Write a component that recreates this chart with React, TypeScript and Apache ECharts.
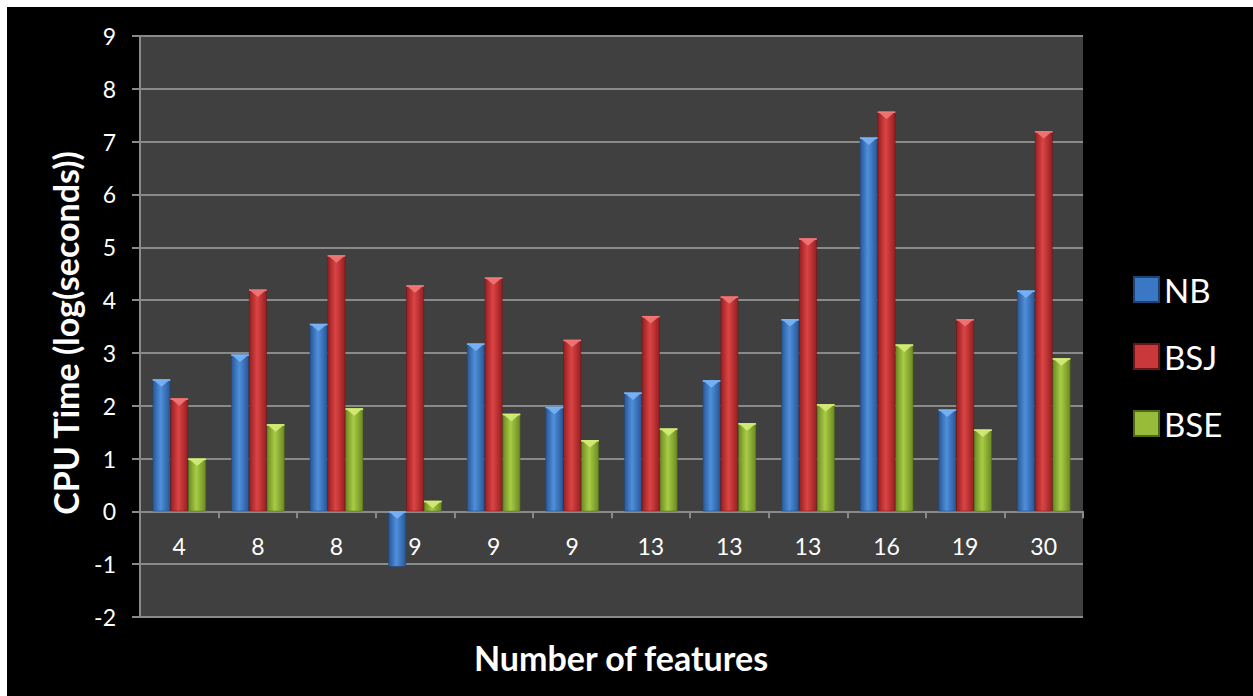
import React, { useEffect, useRef } from "react";
import * as echarts from "echarts";

const categories = ["4", "8", "8", "9", "9", "9", "13", "13", "13", "16", "19", "30"];
const seriesNames = ["NB", "BSJ", "BSE"];
const nbValues = [2.5, 2.97, 3.55, -1.05, 3.18, 1.98, 2.25, 2.48, 3.64, 7.08, 1.93, 4.18];
const bsjValues = [2.14, 4.2, 4.85, 4.28, 4.43, 3.25, 3.7, 4.07, 5.17, 7.57, 3.64, 7.2];
const bseValues = [1.0, 1.65, 1.95, 0.2, 1.85, 1.35, 1.57, 1.67, 2.03, 3.16, 1.55, 2.9];
const yTicks = { min: -2, max: 9, interval: 1 };

const palettes = [
  { dark: "#275796", mid: "#4f8fdb", light: "#7ab4f5", border: "#1d4275", legend: "#3b78c4" },
  { dark: "#951f21", mid: "#dc4444", light: "#f07878", border: "#6e1416", legend: "#c9393b" },
  { dark: "#6b8a22", mid: "#a9cc45", light: "#d4ec7a", border: "#4d6617", legend: "#99bb3a" },
];

const CAT_GAP = 0.32;

export default function App() {
  const ref = useRef<HTMLDivElement>(null);
  useEffect(() => {
    if (!ref.current) return;
    const chart = echarts.init(ref.current, undefined, { renderer: "svg" });
    const all = [nbValues, bsjValues, bseValues];
    const grad = (p: any) =>
      new echarts.graphic.LinearGradient(0, 0, 1, 0, [
        { offset: 0, color: p.dark },
        { offset: 0.45, color: p.mid },
        { offset: 1, color: p.dark },
      ]);
    const barSeries = all.map((vals, k) => ({
      type: "bar",
      name: seriesNames[k],
      data: vals,
      barGap: "0%",
      barCategoryGap: CAT_GAP * 100 + "%",
      itemStyle: { color: grad(palettes[k]), borderColor: palettes[k].border, borderWidth: 0.5 },
      z: 2,
    }));
    const chevronData: any[] = [];
    all.forEach((vals, k) => vals.forEach((v, i) => chevronData.push([i, v, k])));
    const chevrons = {
      type: "custom",
      name: "chev",
      data: chevronData,
      z: 5,
      silent: true,
      renderItem: (params: any, api: any) => {
        const i = api.value(0);
        const v = api.value(1);
        const k = api.value(2);
        const bw = api.size([1, 0])[0];
        const w = (bw * (1 - CAT_GAP)) / 3;
        const c = api.coord([i, v]);
        const z = api.coord([i, 0]);
        const cx = c[0] - 1.5 * w + (k + 0.5) * w;
        const top = Math.min(c[1], z[1]);
        const x0 = cx - w / 2;
        const x1 = cx + w / 2;
        const h = w * 0.42;
        return {
          type: "group",
          children: [
            {
              type: "polygon",
              shape: { points: [[x0, top], [x1, top], [cx, top + h]] },
              style: { fill: palettes[k].light, opacity: 0.9 },
            },
            {
              type: "rect",
              shape: { x: x0, y: top, width: w, height: 1.5 },
              style: { fill: palettes[k].light },
            },
          ],
        };
      },
    };
    chart.setOption({
      animation: false,
      backgroundColor: "#000000",
      textStyle: { fontFamily: "Lato" },
      grid: { left: 133, right: 170, top: 29, bottom: 79, show: true, backgroundColor: "#404040", borderWidth: 0 },
      legend: {
        data: seriesNames.map((n, k) => ({ name: n, itemStyle: { color: palettes[k].legend } })),
        orient: "vertical",
        left: 1121,
        top: 261,
        icon: "rect",
        itemWidth: 25,
        itemHeight: 25,
        itemGap: 34,
        textStyle: { color: "#ffffff", fontSize: 33, fontFamily: "Lato" },
      },
      xAxis: {
        type: "category",
        data: categories,
        axisLine: { onZero: true, lineStyle: { color: "#8a8a8a", width: 2 } },
        axisTick: { show: true, length: 7, inside: false, lineStyle: { color: "#8a8a8a", width: 2 } },
        axisLabel: { color: "#ffffff", fontSize: 23, margin: -83, fontFamily: "Lato" },
      },
      yAxis: {
        type: "value",
        min: yTicks.min,
        max: yTicks.max,
        interval: yTicks.interval,
        axisLine: { show: true, lineStyle: { color: "#8a8a8a", width: 2 } },
        axisTick: { show: true, length: 8, lineStyle: { color: "#8a8a8a", width: 2 } },
        axisLabel: { color: "#ffffff", fontSize: 23, margin: 24, fontFamily: "Lato" },
        splitLine: { show: true, lineStyle: { color: "#8a8a8a", width: 2 } },
      },
      graphic: [
        {
          type: "text",
          x: 58,
          y: 326,
          rotation: Math.PI / 2,
          style: {
            text: "CPU Time (log(seconds))",
            fill: "#ffffff",
            font: "bold 34px Lato",
            align: "center",
            verticalAlign: "middle",
          },
        },
        {
          type: "text",
          x: 614,
          y: 650,
          style: {
            text: "Number of features",
            fill: "#ffffff",
            font: "bold 34px Lato",
            align: "center",
            verticalAlign: "middle",
          },
        },
      ],
      series: [...barSeries, chevrons],
    });
    return () => chart.dispose();
  }, []);
  return (
    <div style={{ position: "fixed", left: 0, top: 0, width: 1253, height: 696, background: "#ffffff" }}>
      <div ref={ref} style={{ position: "absolute", left: 7, top: 7, width: 1246, height: 689 }} />
    </div>
  );
}
